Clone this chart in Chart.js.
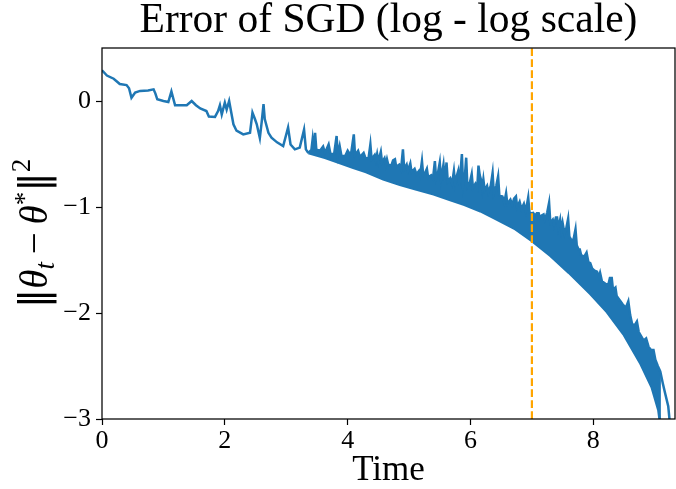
<!DOCTYPE html>
<html>
<head>
<script src="https://cdn.jsdelivr.net/npm/chart.js@4.4.1/dist/chart.umd.min.js"></script>
<style>
  html, body { margin: 0; padding: 0; background: #fff; }
</style>
</head>
<body>
<canvas id="sgdChart" width="676" height="489"></canvas>
<script>
// values (log time, log error)
const earlyRun = [
  [0.00, 0.29], [0.08, 0.24], [0.19, 0.21], [0.29, 0.16], [0.40, 0.15], [0.44, 0.12],
  [0.48, 0.03], [0.54, 0.08], [0.62, 0.095], [0.75, 0.10], [0.84, 0.11], [0.87, 0.07],
  [0.90, 0.016], [1.00, 0.0], [1.08, -0.01], [1.13, 0.09], [1.19, -0.04], [1.30, -0.04],
  [1.38, -0.04], [1.46, 0.0], [1.53, -0.04], [1.60, -0.07], [1.70, -0.095], [1.74, -0.147],
  [1.84, -0.15], [1.89, -0.095], [1.92, -0.04], [1.95, -0.126], [2.00, -0.015], [2.03, -0.08],
  [2.07, 0.0], [2.14, -0.22], [2.19, -0.28], [2.30, -0.315], [2.41, -0.30], [2.45, -0.11],
  [2.49, -0.17], [2.52, -0.22], [2.57, -0.35], [2.60, -0.20], [2.63, -0.03], [2.65, -0.17],
  [2.71, -0.30], [2.76, -0.346], [2.85, -0.39], [2.95, -0.425], [3.03, -0.25], [3.07, -0.41],
  [3.14, -0.456], [3.22, -0.44], [3.29, -0.27], [3.32, -0.456], [3.36, -0.49]
];

// top edge of the noisy band (with spikes)
const bandTop = [
  [3.36, -0.49], [3.41, -0.46], [3.43, -0.36], [3.45, -0.47], [3.47, -0.30], [3.49, -0.46],
  [3.55, -0.47], [3.60, -0.43], [3.63, -0.49], [3.69, -0.41], [3.72, -0.50], [3.78, -0.50],
  [3.82, -0.33], [3.84, -0.51], [3.87, -0.425], [3.90, -0.52], [3.96, -0.52], [4.00, -0.47],
  [4.03, -0.50], [4.06, -0.48], [4.10, -0.315], [4.12, -0.51], [4.17, -0.47], [4.20, -0.53],
  [4.26, -0.49], [4.29, -0.54], [4.34, -0.54], [4.37, -0.41], [4.39, -0.55], [4.44, -0.51],
  [4.46, -0.56], [4.48, -0.50], [4.50, -0.57], [4.54, -0.48], [4.56, -0.58], [4.60, -0.54],
  [4.62, -0.60], [4.64, -0.55], [4.66, -0.60], [4.71, -0.61], [4.74, -0.56], [4.77, -0.55],
  [4.79, -0.62], [4.84, -0.60], [4.87, -0.64], [4.90, -0.456], [4.92, -0.64], [4.96, -0.60],
  [4.98, -0.66], [5.02, -0.59], [5.04, -0.67], [5.09, -0.64], [5.12, -0.69], [5.16, -0.66],
  [5.18, -0.70], [5.21, -0.567], [5.23, -0.70], [5.26, -0.68], [5.29, -0.64], [5.31, -0.72],
  [5.36, -0.70], [5.39, -0.73], [5.42, -0.567], [5.44, -0.73], [5.47, -0.68], [5.50, -0.58],
  [5.52, -0.74], [5.56, -0.60], [5.58, -0.75], [5.61, -0.58], [5.63, -0.76], [5.67, -0.73],
  [5.70, -0.78], [5.73, -0.66], [5.75, -0.78], [5.78, -0.70], [5.80, -0.66], [5.82, -0.80],
  [5.86, -0.50], [5.88, -0.80], [5.91, -0.70], [5.93, -0.535], [5.95, -0.81], [5.99, -0.77],
  [6.02, -0.69], [6.04, -0.82], [6.08, -0.78], [6.11, -0.82], [6.13, -0.61], [6.15, -0.70],
  [6.17, -0.74], [6.19, -0.83], [6.21, -0.74], [6.23, -0.84], [6.27, -0.80], [6.29, -0.86],
  [6.33, -0.80], [6.36, -0.68], [6.38, -0.87], [6.42, -0.80], [6.45, -0.71], [6.47, -0.89],
  [6.52, -0.90], [6.55, -0.96], [6.58, -0.87], [6.60, -0.97], [6.65, -0.93], [6.68, -0.98],
  [6.71, -0.92], [6.74, -0.90], [6.76, -1.00], [6.80, -0.95], [6.83, -1.02], [6.87, -0.97],
  [6.90, -1.04], [6.94, -0.91], [6.96, -1.05], [6.99, -1.06], [7.02, -1.055], [7.05, -1.08],
  [7.08, -1.06], [7.11, -1.06], [7.13, -1.10], [7.16, -1.08], [7.19, -1.07], [7.21, -1.12],
  [7.25, -1.05], [7.28, -0.96], [7.30, -1.15], [7.34, -1.12], [7.36, -1.17], [7.39, -1.10],
  [7.41, -1.10], [7.43, -1.20], [7.46, -1.12], [7.48, -1.22], [7.50, -1.15], [7.53, -1.25],
  [7.56, -1.20], [7.59, -1.11], [7.61, -1.28], [7.65, -1.32], [7.68, -1.30], [7.71, -1.21],
  [7.73, -1.36], [7.76, -1.40], [7.78, -1.40], [7.80, -1.45], [7.85, -1.47], [7.89, -1.43],
  [7.92, -1.52], [7.95, -1.53], [7.98, -1.58], [8.02, -1.60], [8.06, -1.61], [8.09, -1.66],
  [8.11, -1.62], [8.14, -1.70], [8.19, -1.72], [8.22, -1.74], [8.25, -1.72], [8.27, -1.67],
  [8.30, -1.67], [8.32, -1.78], [8.36, -1.76], [8.38, -1.84], [8.43, -1.88], [8.48, -1.92],
  [8.53, -1.95], [8.57, -1.89], [8.60, -2.02], [8.63, -2.10], [8.67, -2.12], [8.71, -2.08],
  [8.74, -2.18], [8.78, -2.22], [8.82, -2.26], [8.86, -2.24], [8.90, -2.32], [8.94, -2.35],
  [8.98, -2.35], [9.01, -2.44], [9.05, -2.50], [9.09, -2.55], [9.13, -2.66], [9.17, -2.76],
  [9.22, -2.88], [9.24, -3.00], [9.26, -3.10]
];

// bottom edge of the band
const bandBottom = [
  [3.36, -0.49], [3.63, -0.535], [3.85, -0.58], [4.09, -0.63], [4.30, -0.67], [4.58, -0.74],
  [4.85, -0.79], [5.12, -0.835], [5.40, -0.88], [5.67, -0.935], [5.90, -0.98], [6.16, -1.04],
  [6.40, -1.11], [6.73, -1.21], [7.00, -1.32], [7.30, -1.46], [7.60, -1.62], [7.95, -1.82],
  [8.22, -1.99], [8.49, -2.20], [8.76, -2.47], [8.95, -2.70], [9.06, -2.92], [9.10, -3.10]
];

const switchTime = 7;
const xTicks = [0, 2, 4, 6, 8];
const yTicks = [-3, -2, -1, 0];

const blue = '#1f77b4';
const serif = "'Liberation Serif', 'DejaVu Serif', serif";
const toPts = arr => arr.map(p => ({x: p[0], y: p[1]}));

// box round the plot, like matplotlib spines
const spines = {
  id: 'spines',
  afterDraw(chart) {
    const {ctx, chartArea: a} = chart;
    ctx.save();
    ctx.strokeStyle = '#000';
    ctx.lineWidth = 1.25;
    ctx.strokeRect(a.left, a.top, a.right - a.left, a.bottom - a.top);
    ctx.restore();
  }
};

// y label with sub/superscripts
const yLabel = {
  id: 'yLabel',
  afterDraw(chart) {
    const {ctx, chartArea: a} = chart;
    const big = 39, small = 27;
    const bars = big + "px 'DejaVu Sans', sans-serif";
    const parts = [
      {s: '\u2016', f: bars, dy: 0},
      {s: '\u03b8', f: 'italic ' + big + 'px ' + serif, dy: 0},
      {s: 't', f: 'italic ' + small + 'px ' + serif, dy: 7},
      {s: '\u2009\u2212\u2009', f: big + 'px ' + serif, dy: 0},
      {s: '\u03b8', f: 'italic ' + big + 'px ' + serif, dy: 0},
      {s: '*', f: small + 'px ' + serif, dy: -14},
      {s: '\u2016', f: bars, dy: 0},
      {s: '2', f: small + 'px ' + serif, dy: -17}
    ];
    ctx.save();
    let total = 0;
    parts.forEach(p => { ctx.font = p.f; p.w = ctx.measureText(p.s).width; total += p.w; });
    ctx.translate(47, (a.top + a.bottom) / 2);
    ctx.rotate(-Math.PI / 2);
    ctx.fillStyle = '#000';
    ctx.textBaseline = 'alphabetic';
    let x = -total / 2;
    parts.forEach(p => { ctx.font = p.f; ctx.fillText(p.s, x, p.dy); x += p.w; });
    ctx.restore();
  }
};

new Chart(document.getElementById('sgdChart'), {
  type: 'line',
  data: {
    datasets: [{
      label: 'switch',
      data: [{x: switchTime, y: -3}, {x: switchTime, y: 0.5}],
      borderColor: '#ffa500',
      borderWidth: 2.2,
      borderDash: [7.7, 3.3],
      pointRadius: 0,
      order: 0
    }, {
      label: 'early',
      data: toPts(earlyRun),
      borderColor: blue,
      borderWidth: 2.5,
      pointRadius: 0,
      order: 1
    }, {
      label: 'band top',
      data: toPts(bandTop),
      borderColor: blue,
      backgroundColor: blue,
      borderWidth: 2.5,
      pointRadius: 0,
      fill: 3,
      order: 2
    }, {
      label: 'band bottom',
      data: toPts(bandBottom),
      borderColor: blue,
      borderWidth: 2.5,
      pointRadius: 0,
      order: 3
    }]
  },
  options: {
    responsive: false,
    animation: false,
    layout: { padding: { left: 0, right: 1, top: 0, bottom: 0 } },
    elements: { line: { tension: 0 } },
    plugins: {
      legend: { display: false },
      tooltip: { enabled: false },
      title: {
        display: true,
        text: 'Error of SGD (log - log scale)',
        fullSize: false,
        color: '#000',
        font: { family: serif, size: 41.5, weight: 'normal', lineHeight: 1.0 },
        padding: { top: 0, bottom: 6.5 }
      }
    },
    scales: {
      x: {
        type: 'linear',
        min: 0,
        max: 9.33,
        afterBuildTicks: s => { s.ticks = xTicks.map(v => ({value: v})); },
        afterFit: s => { s.height = 70; },
        border: { display: false },
        grid: { drawOnChartArea: false, tickLength: 6, tickColor: '#000', tickWidth: 1.2 },
        ticks: {
          color: '#000',
          padding: 1,
          maxRotation: 0,
          font: { family: serif, size: 26 },
          callback: v => String(v)
        },
        title: {
          display: true,
          text: 'Time',
          color: '#000',
          font: { family: serif, size: 35, lineHeight: 1.0 },
          padding: { top: 0, bottom: 1 }
        }
      },
      y: {
        min: -3,
        max: 0.5,
        afterBuildTicks: s => { s.ticks = yTicks.map(v => ({value: v})); },
        afterFit: s => { s.width = 102; },
        border: { display: false },
        grid: { drawOnChartArea: false, tickLength: 6, tickColor: '#000', tickWidth: 1.2 },
        ticks: {
          color: '#000',
          padding: 5,
          font: { family: serif, size: 26 },
          callback: v => v < 0 ? '\u2212' + Math.abs(v) : String(v)
        }
      }
    }
  },
  plugins: [spines, yLabel]
});
</script>
</body>
</html>
